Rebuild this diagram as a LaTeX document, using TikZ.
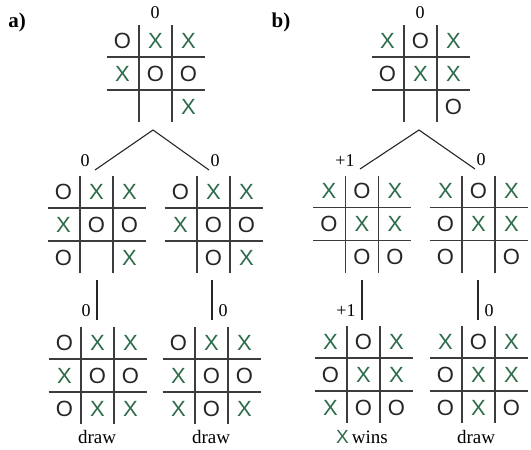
\documentclass[tikz,border=0pt]{standalone}
\usepackage{fontspec}
\setmainfont{Liberation Serif}
\newfontfamily\xofont{Liberation Sans}
\definecolor{xgreen}{RGB}{45,108,74}
\definecolor{gridgray}{RGB}{60,60,60}
\newcommand{\symX}{{\color{xgreen}X}}
\newcommand{\symO}{{\color{black!85}O}}
\newcommand{\symN}{}
\tikzset{
  gridline/.style={draw=gridgray, line width=1.3pt},
  boardbox/.style={draw=none, minimum width=98pt, minimum height=97pt, inner sep=0pt},
  xo/.style={inner sep=0pt, font=\xofont\fontsize{22}{22}\selectfont},
  score/.style={inner sep=0pt, font=\fontsize{18}{18}\selectfont},
  outcome/.style={inner sep=0pt, font=\fontsize{19}{19}\selectfont},
  panel/.style={inner sep=0pt, font=\bfseries\fontsize{21}{21}\selectfont},
  edge/.style={draw=black!85, line width=1.1pt},
}
\newcommand{\tttboard}[4]{%
  \begin{scope}[shift={(#2,#3)}]
    \node[boardbox] (#1) at (0,0) {};
    \draw[gridline] (-49,-16.5) -- (49,-16.5);
    \draw[gridline] (-49,16.5) -- (49,16.5);
    \draw[gridline] (-16.5,-48.5) -- (-16.5,48.5);
    \draw[gridline] (16.5,-48.5) -- (16.5,48.5);
    \foreach \s [count=\i from 0] in {#4}{%
      \pgfmathtruncatemacro{\cc}{mod(\i,3)}%
      \pgfmathtruncatemacro{\rr}{int(\i/3)}%
      \node[xo] (#1-\i) at ({(\cc-1)*33},{(\rr-1)*33}) {\csname sym\s\endcsname};
    }
  \end{scope}}
\begin{document}
\begin{tikzpicture}[x=1pt,y=-1pt]
\useasboundingbox (0,0) rectangle (531,450);
\fill[white] (0,0) rectangle (531,450);
% panel labels
\node[panel] (la) at (17,22) {a)};
\node[panel] (lb) at (281,22) {b)};
% boards (a)
\tttboard{a0}{155.5}{73.5}{O,X,X,X,O,O,N,N,X}
\tttboard{a1L}{96.5}{224.5}{O,X,X,X,O,O,O,N,X}
\tttboard{a1R}{213.5}{224.5}{O,X,X,X,O,O,N,O,X}
\tttboard{a2L}{97.5}{375.5}{O,X,X,X,O,O,O,X,X}
\tttboard{a2R}{211.5}{375.5}{O,X,X,X,O,O,X,O,X}
% boards (b)
\tttboard{b0}{420.5}{73.5}{X,O,X,O,X,X,N,N,O}
\tttboard{b1L}{362}{224}{X,O,X,O,X,X,N,O,O}
\tttboard{b1R}{478.5}{224}{X,O,X,O,X,X,O,N,O}
\tttboard{b2L}{363.5}{374.5}{X,O,X,O,X,X,X,O,O}
\tttboard{b2R}{478.5}{374.5}{X,O,X,O,X,X,O,X,O}
% scores
\node[score] (s-a0) at (155,13) {0};
\node[score] (s-b0) at (420,13) {0};
\node[score] (s-a1L) at (85,161) {0};
\node[score] (s-a1R) at (215,161) {0};
\node[score] (s-b1L) at (345,161) {+1};
\node[score] (s-b1R) at (481,160) {0};
\node[score] (s-a2L) at (86,311) {0};
\node[score] (s-a2R) at (223,311) {0};
\node[score] (s-b2L) at (346,311) {+1};
\node[score] (s-b2R) at (489,311) {0};
% outcomes
\node[outcome] (o-a2L) at (97,437) {draw};
\node[outcome] (o-a2R) at (211,437) {draw};
\node[outcome] (o-b2L) at (362,437) {{\xofont\color{xgreen}X}\,wins};
\node[outcome] (o-b2R) at (476,437) {draw};
% connectors (a)
\coordinate (a-apex) at (153,130);
\coordinate (a-l) at (95,170);
\coordinate (a-r) at (209,170);
\draw[edge] (a-l) -- (a-apex) -- (a-r);
\coordinate (a-vl1) at (97,280);
\coordinate (a-vl2) at (97,320);
\coordinate (a-vr1) at (212,280);
\coordinate (a-vr2) at (212,320);
\draw[edge] (a-vl1) -- (a-vl2);
\draw[edge] (a-vr1) -- (a-vr2);
% connectors (b)
\coordinate (b-apex) at (419,130);
\coordinate (b-l) at (360,169);
\coordinate (b-r) at (475,169);
\draw[edge] (b-l) -- (b-apex) -- (b-r);
\coordinate (b-vl1) at (362,280);
\coordinate (b-vl2) at (362,320);
\coordinate (b-vr1) at (478,280);
\coordinate (b-vr2) at (478,320);
\draw[edge] (b-vl1) -- (b-vl2);
\draw[edge] (b-vr1) -- (b-vr2);
\end{tikzpicture}
\end{document}
